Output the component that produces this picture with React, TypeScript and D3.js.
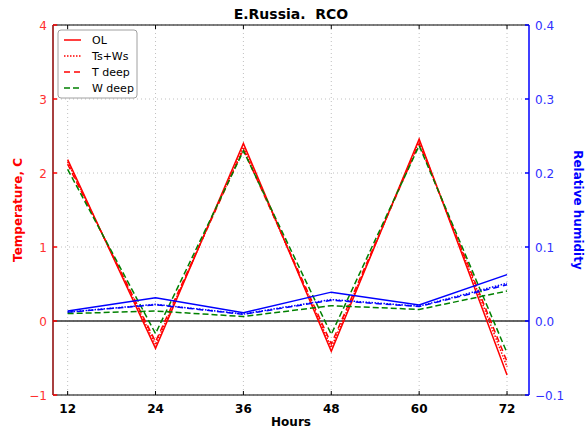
import React from "react";
import * as d3 from "d3";

const hours = [12, 24, 36, 48, 60, 72];
const seriesNames = ["OL", "Ts+Ws", "T deep", "W deep"];
const tempOL = [2.18, -0.37, 2.4, -0.41, 2.46, -0.73];
const tempTsWs = [2.15, -0.32, 2.35, -0.36, 2.43, -0.62];
const tempTdeep = [2.12, -0.28, 2.32, -0.31, 2.4, -0.55];
const tempWdeep = [2.05, -0.17, 2.3, -0.18, 2.37, -0.43];
const rhOL = [0.0135, 0.0315, 0.0112, 0.039, 0.0216, 0.0627];
const rhTsWs = [0.012, 0.0225, 0.0095, 0.029, 0.02, 0.051];
const rhTdeep = [0.0118, 0.022, 0.009, 0.028, 0.0195, 0.049];
const rhWdeep = [0.01, 0.0135, 0.006, 0.0207, 0.0156, 0.0405];
const xTicks = [12, 24, 36, 48, 60, 72];
const tempTicks = [-1, 0, 1, 2, 3, 4];
const rhTicks = [-0.1, 0.0, 0.1, 0.2, 0.3, 0.4];

const W = 587, H = 432;
const L = 53, R = 529, T = 25, B = 395;
const FONT = "DejaVu Sans, sans-serif";

export default function App() {
  const x = d3.scaleLinear().domain([10, 75]).range([L, R]);
  const yT = d3.scaleLinear().domain([-1, 4]).range([B, T]);
  const yR = d3.scaleLinear().domain([-0.1, 0.4]).range([B, T]);
  const lineT = (vals: number[]) =>
    d3.line<number>().x((_, i) => x(hours[i])).y((v) => yT(v))(vals) || "";
  const lineR = (vals: number[]) =>
    d3.line<number>().x((_, i) => x(hours[i])).y((v) => yR(v))(vals) || "";

  const styles = [
    { color: "#ff0000", dash: "none" },
    { color: "#ff0000", dash: "1.5,1.5" },
    { color: "#ff0000", dash: "6,4" },
    { color: "#008000", dash: "6,3" },
  ];
  const rhStyles = [
    { color: "#0000ff", dash: "none" },
    { color: "#0000ff", dash: "1.5,1.5" },
    { color: "#0000ff", dash: "6,4" },
    { color: "#008000", dash: "6,3" },
  ];
  const tempData = [tempOL, tempTsWs, tempTdeep, tempWdeep];
  const rhData = [rhOL, rhTsWs, rhTdeep, rhWdeep];

  return (
    <svg width={W} height={H} style={{ display: "block", position: "absolute", left: 0, top: 0 }} fontFamily={FONT}>
      <rect x={0} y={0} width={W} height={H} fill="#fff" />
      {/* grid */}
      {xTicks.map((t) => (
        <line key={"gx" + t} x1={x(t)} x2={x(t)} y1={T} y2={B} stroke="#b0b0b0" strokeWidth={0.8} strokeDasharray="1,3" />
      ))}
      {tempTicks.map((t) => (
        <line key={"gy" + t} x1={L} x2={R} y1={yT(t)} y2={yT(t)} stroke="#b0b0b0" strokeWidth={0.8} strokeDasharray="1,3" />
      ))}
      {/* zero line */}
      <line x1={L} x2={R} y1={yT(0)} y2={yT(0)} stroke="#333" strokeWidth={1.5} />
      {/* temperature lines */}
      {tempData.map((d, i) => (
        <path key={"t" + i} d={lineT(d)} fill="none" stroke={styles[i].color} strokeWidth={1.5} strokeDasharray={styles[i].dash} />
      ))}
      {/* rh lines */}
      {rhData.map((d, i) => (
        <path key={"r" + i} d={lineR(d)} fill="none" stroke={rhStyles[i].color} strokeWidth={1.5} strokeDasharray={rhStyles[i].dash} />
      ))}
      {/* spines */}
      <line x1={L} x2={R} y1={T} y2={T} stroke="#000" strokeWidth={1} />
      <line x1={L} x2={R} y1={B} y2={B} stroke="#000" strokeWidth={1} />
      <line x1={L} x2={L} y1={T} y2={B} stroke="#8b0000" strokeWidth={1.5} />
      <line x1={R} x2={R} y1={T} y2={B} stroke="#0000ff" strokeWidth={1.5} />
      {/* x ticks */}
      {xTicks.map((t) => (
        <g key={"xt" + t}>
          <line x1={x(t)} x2={x(t)} y1={B} y2={B - 4} stroke="#000" />
          <line x1={x(t)} x2={x(t)} y1={T} y2={T + 4} stroke="#000" />
          <text x={x(t)} y={B + 18} textAnchor="middle" fontSize={12} fontWeight="bold" fill="#000">{t}</text>
        </g>
      ))}
      {/* left ticks */}
      {tempTicks.map((t) => (
        <g key={"lt" + t}>
          <line x1={L} x2={L + 4} y1={yT(t)} y2={yT(t)} stroke="#ff0000" strokeWidth={1.5} />
          <text x={L - 6} y={yT(t) + 4.5} textAnchor="end" fontSize={12} fill="#ff3030">{t < 0 ? "\u2212" + Math.abs(t) : t}</text>
        </g>
      ))}
      {/* right ticks */}
      {rhTicks.map((t) => (
        <g key={"rt" + t}>
          <line x1={R} x2={R - 4} y1={yR(t)} y2={yR(t)} stroke="#0000ff" strokeWidth={1.5} />
          <text x={R + 6} y={yR(t) + 4.5} textAnchor="start" fontSize={12} fill="#3030ff">{t < 0 ? "\u2212" + Math.abs(t).toFixed(1) : t.toFixed(1)}</text>
        </g>
      ))}
      {/* titles */}
      <text x={(L + R) / 2} y={19} textAnchor="middle" fontSize={14} fontWeight="bold" style={{ whiteSpace: "pre" }}>{"E.Russia.  RCO"}</text>
      <text x={(L + R) / 2} y={426} textAnchor="middle" fontSize={12} fontWeight="bold">Hours</text>
      <text transform={`translate(22,${(T + B) / 2}) rotate(-90)`} textAnchor="middle" fontSize={12} fontWeight="bold" fill="#ff0000">Temperature, C</text>
      <text transform={`translate(574,${(T + B) / 2}) rotate(90)`} textAnchor="middle" fontSize={12} fontWeight="bold" fill="#0000ff">Relative humidity</text>
      {/* legend */}
      <g>
        <rect x={58} y={30} width={79} height={68} rx={3} fill="#fff" stroke="#888" strokeWidth={0.8} />
        {seriesNames.map((n, i) => (
          <g key={"lg" + n}>
            <line x1={64} x2={81} y1={40 + i * 16} y2={40 + i * 16} stroke={styles[i].color} strokeWidth={1.5} strokeDasharray={styles[i].dash} />
            <text x={92} y={44 + i * 16} fontSize={11} fill="#000">{n}</text>
          </g>
        ))}
      </g>
    </svg>
  );
}
